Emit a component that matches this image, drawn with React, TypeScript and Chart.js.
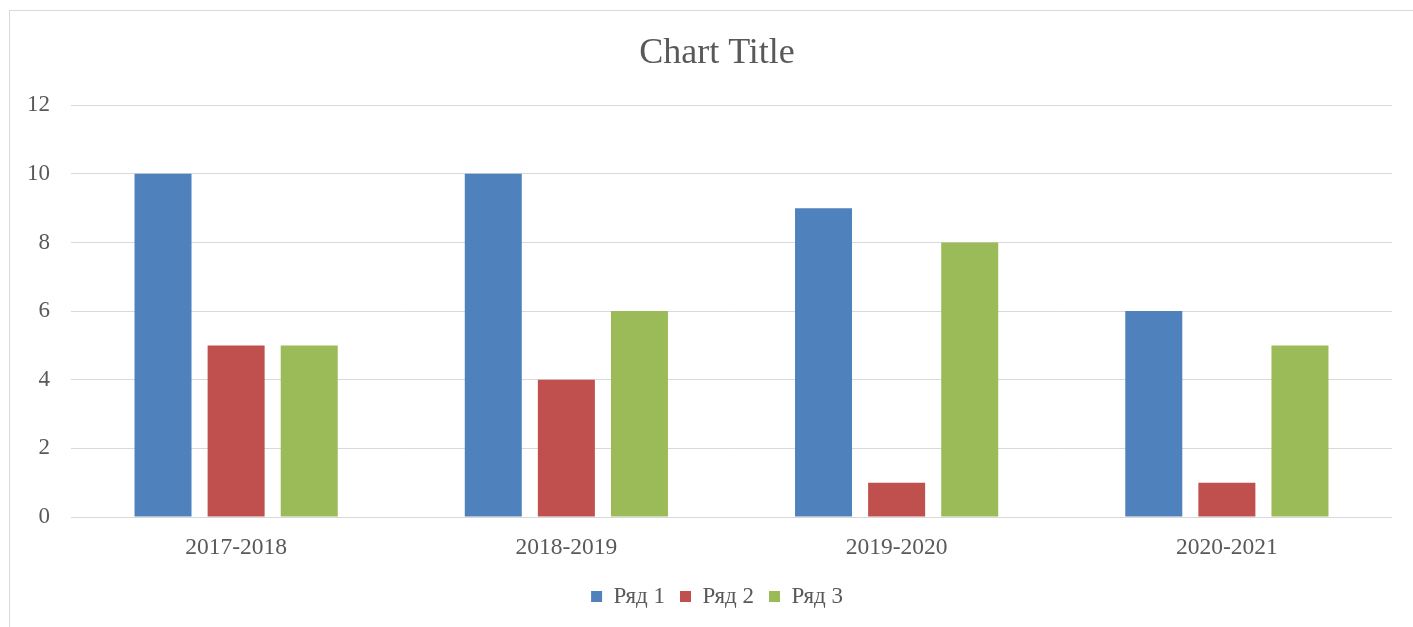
import React, { useEffect, useRef } from "react";
import { Chart, registerables } from "chart.js";

Chart.register(...registerables);

const categories = ["2017-2018", "2018-2019", "2019-2020", "2020-2021"];
const series1 = [10, 10, 9, 6];
const series2 = [5, 4, 1, 1];
const series3 = [5, 6, 8, 5];
const seriesNames = ["Ряд 1", "Ряд 2", "Ряд 3"];
const yTicks = { min: 0, max: 12, step: 2 };

const FONT = "'Liberation Serif', 'Times New Roman', serif";
const TEXT = "#595959";
const GRID = "#d9d9d9";

export default function App() {
  const ref = useRef<HTMLCanvasElement | null>(null);

  useEffect(() => {
    if (!ref.current) return;
    const chart = new Chart(ref.current, {
      type: "bar",
      data: {
        labels: categories,
        datasets: [
          { label: seriesNames[0], data: series1, backgroundColor: "#4F81BD", borderWidth: 0 },
          { label: seriesNames[1], data: series2, backgroundColor: "#C0504D", borderWidth: 0 },
          { label: seriesNames[2], data: series3, backgroundColor: "#9BBB59", borderWidth: 0 },
        ],
      },
      options: {
        responsive: false,
        animation: false,
        datasets: { bar: { categoryPercentage: 0.664, barPercentage: 0.78 } },
        layout: { padding: { left: 0, right: 6, top: 0, bottom: 9 } },
        plugins: {
          tooltip: { enabled: false },
          title: {
            display: true,
            text: "Chart Title",
            color: TEXT,
            font: { family: FONT, size: 36, weight: "normal" },
            padding: { top: 21, bottom: 30 },
          },
          legend: {
            display: true,
            position: "bottom",
            labels: {
              color: TEXT,
              font: { family: FONT, size: 23 },
              boxWidth: 11,
              boxHeight: 11,
              padding: 15,
            },
          },
        },
        scales: {
          x: {
            grid: { display: false },
            border: { display: false },
            ticks: { color: TEXT, font: { family: FONT, size: 23.5 }, padding: 9 },
            afterFit: (s: any) => {
              s.height = 53;
            },
          },
          y: {
            min: yTicks.min,
            max: yTicks.max,
            grid: { color: GRID, lineWidth: 1, drawTicks: false },
            border: { display: false },
            ticks: {
              stepSize: yTicks.step,
              color: TEXT,
              font: { family: FONT, size: 23 },
              padding: 21,
            },
            afterFit: (s: any) => {
              s.width = 61;
            },
          },
          yRight: {
            position: "right",
            display: true,
            grid: { display: false },
            border: { display: false },
            ticks: { display: false },
            afterFit: (s: any) => {
              s.width = 32;
            },
          },
        },
      } as any,
    });
    return () => chart.destroy();
  }, []);

  return (
    <div style={{ position: "fixed", left: 0, top: 0, width: "100vw", height: "100vh", overflow: "hidden", background: "#fff" }}>
      <div
        style={{
          position: "absolute",
          left: 9,
          top: 10,
          width: 1420,
          height: 640,
          border: "1px solid #d9d9d9",
          boxSizing: "content-box",
        }}
      >
        <canvas ref={ref} width={1420} height={616} style={{ display: "block" }} />
      </div>
    </div>
  );
}
